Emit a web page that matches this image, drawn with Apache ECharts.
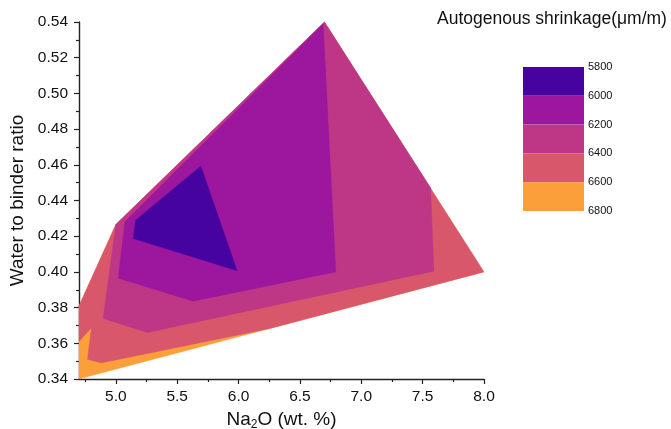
<!DOCTYPE html>
<html>
<head>
<meta charset="utf-8">
<script src="https://cdn.jsdelivr.net/npm/echarts@6/dist/echarts.min.js"></script>
<style>html,body{margin:0;padding:0;background:#fff}#c{width:671px;height:429px}</style>
</head>
<body>
<div id="c"></div>
<script>
// Contour levels (µm/m) and fill colours of each band
const levels = [5800, 6000, 6200, 6400, 6600, 6800];
const levelColors = ['#46039f', '#9c179e', '#bd3786', '#d8576b', '#fb9f3a'];

// Region polygons [Na2O, w/b]: area with shrinkage below each level
const region6800 = [[4.7,0.34],[4.7,0.381],[5.0,0.4266],[6.7,0.54],[8.0,0.40]];
const region6600 = [[4.7,0.361],[4.80,0.3686],[4.769,0.3509],[4.883,0.349],[6.25,0.3682],[8.0,0.40],[6.7,0.54],[5.0,0.4266],[4.7,0.381]];
const region6400 = [[4.896,0.3739],[5.258,0.366],[7.592,0.4004],[7.565,0.4471],[6.7,0.54],[5.0,0.4266]];
const region6200 = [[5.019,0.3965],[5.073,0.4281],[6.69,0.539],[6.793,0.40],[5.63,0.3836]];
const region6000 = [[5.693,0.4593],[5.989,0.4006],[5.141,0.4187],[5.161,0.429]];

// Axis ticks
const xMajorTicks = [5.0, 5.5, 6.0, 6.5, 7.0, 7.5, 8.0];
const xMinorTicks = [4.75, 5.25, 5.75, 6.25, 6.75, 7.25, 7.75];

const FONT = "'Liberation Sans', Arial, sans-serif";
const chart = echarts.init(document.getElementById('c'), null, {renderer: 'canvas'});

function polygonSeries(points, color) {
  return {
    type: 'custom',
    coordinateSystem: 'cartesian2d',
    xAxisIndex: 0, yAxisIndex: 0,
    data: points,
    encode: {x: 0, y: 1},
    silent: true,
    animation: false,
    renderItem: function (params, api) {
      if (params.dataIndex !== 0) return null;
      const pts = points.map(p => api.coord(p));
      return {type: 'polygon', shape: {points: pts}, style: {fill: color, stroke: color, lineWidth: 0.3}};
    }
  };
}

// legend graphic built from levels
const legTop = 67, legH = 28.8, legX = 523, legW = 61;
const graphics = [{
  type: 'text', left: 437, top: 10,
  style: {text: 'Autogenous shrinkage(μm/m)', font: '17.5px ' + FONT, fill: '#111'}
}];
levelColors.forEach((c, i) => {
  graphics.push({type: 'rect', shape: {x: legX, y: legTop + i * legH, width: legW, height: legH}, style: {fill: c}, silent: true});
});
levels.forEach((v, i) => {
  graphics.push({type: 'text', x: legX + legW + 4, y: legTop + i * legH,
    style: {text: String(v), font: '11px ' + FONT, fill: '#111', verticalAlign: 'middle', align: 'left'}});
});

const axisLine = {show: true, lineStyle: {color: '#222', width: 1.4}};
const option = {
  animation: false,
  backgroundColor: '#fff',
  grid: {left: 79, right: 187, top: 22, bottom: 50, containLabel: false, outerBoundsMode: 'none'},
  xAxis: [{
    type: 'value', min: 4.7, max: 8.0, position: 'bottom',
    name: '{a|Na}{s|2}{a|O (wt. %)}', nameLocation: 'middle', nameGap: 26,
    nameTextStyle: {rich: {a: {fontSize: 19, fontFamily: FONT, color: '#111'}, s: {fontSize: 12, fontFamily: FONT, color: '#111', verticalAlign: 'bottom', padding: [10, 0, 0, 0]}}},
    axisLine: axisLine,
    axisTick: {show: true, inside: false, length: 5, customValues: xMajorTicks, lineStyle: {color: '#222', width: 1.2}},
    axisLabel: {customValues: xMajorTicks, margin: 10, fontSize: 15.5, fontFamily: FONT, color: '#111', formatter: v => v.toFixed(1)},
    splitLine: {show: false}
  }, {
    type: 'value', min: 4.7, max: 8.0, position: 'bottom',
    axisLine: {show: false},
    axisTick: {show: true, inside: false, length: 3, customValues: xMinorTicks, lineStyle: {color: '#222', width: 1.2}},
    axisLabel: {show: false},
    splitLine: {show: false}
  }],
  yAxis: [{
    type: 'value', min: 0.34, max: 0.54, interval: 0.02,
    name: 'Water to binder ratio', nameLocation: 'middle', nameGap: 41, nameRotate: 90,
    nameTextStyle: {fontSize: 19, fontFamily: FONT, color: '#111'},
    axisLine: axisLine,
    axisTick: {show: true, inside: false, length: 5, lineStyle: {color: '#222', width: 1.2}},
    minorTick: {show: true, splitNumber: 2, length: 3, lineStyle: {color: '#222', width: 1.2}},
    axisLabel: {margin: 11, fontSize: 15.5, fontFamily: FONT, color: '#111', formatter: v => v.toFixed(2)},
    splitLine: {show: false}, minorSplitLine: {show: false}
  }],
  series: [
    polygonSeries(region6800, levelColors[4]),
    polygonSeries(region6600, levelColors[3]),
    polygonSeries(region6400, levelColors[2]),
    polygonSeries(region6200, levelColors[1]),
    polygonSeries(region6000, levelColors[0])
  ],
  graphic: graphics
};
chart.setOption(option);
</script>
</body>
</html>
